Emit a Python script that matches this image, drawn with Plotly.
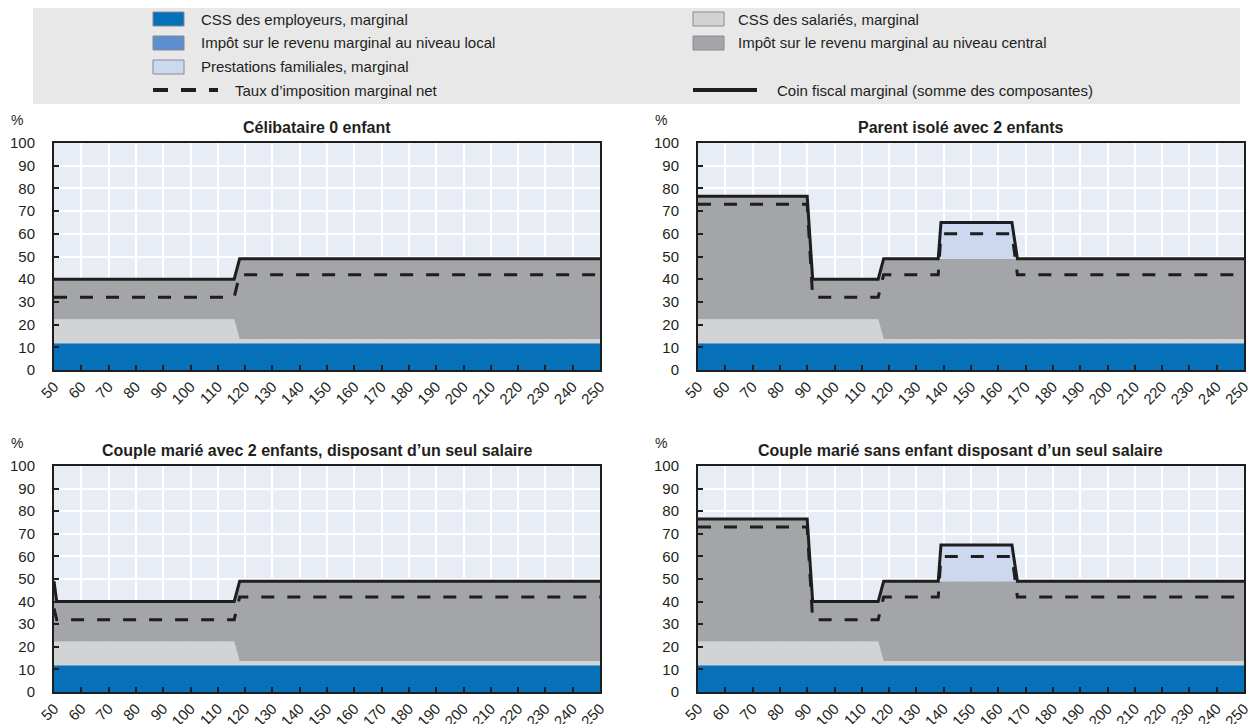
import numpy as np
import plotly.graph_objects as go
from plotly.subplots import make_subplots

# page body has an 8px margin: figure is drawn 8px in from the window edge
OFF = 8
FW, FH = 1256 - OFF, 724 - OFF

# ---------------- DATA ----------------
# Célibataire 0 enfant
x_celib = [50, 116, 118, 250]
css_employeurs_celib = [11.8, 11.8, 11.8, 11.8]
css_salaries_celib = [10.6, 10.6, 1.9, 1.9]
impot_local_celib = [0, 0, 0, 0]
impot_central_celib = [17.6, 17.6, 35.3, 35.3]
prestations_celib = [0, 0, 0, 0]
taux_net_celib = [32, 32, 42, 42]

# Parent isolé avec 2 enfants
x_parent = [50, 90, 92, 116, 118, 138, 139, 165, 167, 250]
css_employeurs_parent = [11.8, 11.8, 11.8, 11.8, 11.8, 11.8, 11.8, 11.8, 11.8, 11.8]
css_salaries_parent = [10.6, 10.6, 10.6, 10.6, 1.9, 1.9, 1.9, 1.9, 1.9, 1.9]
impot_local_parent = [0, 0, 0, 0, 0, 0, 0, 0, 0, 0]
impot_central_parent = [54.1, 54.1, 17.6, 17.6, 35.3, 35.3, 35.3, 35.3, 35.3, 35.3]
prestations_parent = [0, 0, 0, 0, 0, 0, 16, 16, 0, 0]
taux_net_parent = [73, 73, 32, 32, 42, 42, 60, 60, 42, 42]

# Couple marié avec 2 enfants, disposant d'un seul salaire
x_couple2 = [50, 51, 116, 118, 250]
css_employeurs_couple2 = [11.8, 11.8, 11.8, 11.8, 11.8]
css_salaries_couple2 = [10.6, 10.6, 10.6, 1.9, 1.9]
impot_local_couple2 = [0, 0, 0, 0, 0]
impot_central_couple2 = [26.6, 17.6, 17.6, 35.3, 35.3]
prestations_couple2 = [0, 0, 0, 0, 0]
taux_net_couple2 = [37, 32, 32, 42, 42]

# Couple marié sans enfant disposant d'un seul salaire
x_couple0 = [50, 90, 92, 116, 118, 138, 139, 165, 167, 250]
css_employeurs_couple0 = [11.8, 11.8, 11.8, 11.8, 11.8, 11.8, 11.8, 11.8, 11.8, 11.8]
css_salaries_couple0 = [10.6, 10.6, 10.6, 10.6, 1.9, 1.9, 1.9, 1.9, 1.9, 1.9]
impot_local_couple0 = [0, 0, 0, 0, 0, 0, 0, 0, 0, 0]
impot_central_couple0 = [54.1, 54.1, 17.6, 17.6, 35.3, 35.3, 35.3, 35.3, 35.3, 35.3]
prestations_couple0 = [0, 0, 0, 0, 0, 0, 16, 16, 0, 0]
taux_net_couple0 = [73, 73, 32, 32, 42, 42, 60, 60, 42, 42]

titles = ["Célibataire 0 enfant",
          "Parent isolé avec 2 enfants",
          "Couple marié avec 2 enfants, disposant d’un seul salaire",
          "Couple marié sans enfant disposant d’un seul salaire"]

series_names = ["CSS des employeurs, marginal",
                "CSS des salariés, marginal",
                "Impôt sur le revenu marginal au niveau local",
                "Impôt sur le revenu marginal au niveau central",
                "Prestations familiales, marginal"]
name_net = "Taux d’imposition marginal net"
name_total = "Coin fiscal marginal (somme des composantes)"

x_ticks = list(range(50, 251, 10))
y_ticks = list(range(0, 101, 10))

# ---------------- STYLE ----------------
colors = {
    "CSS des employeurs, marginal": "#0670b8",
    "CSS des salariés, marginal": "#d2d3d5",
    "Impôt sur le revenu marginal au niveau local": "#5d8fd0",
    "Impôt sur le revenu marginal au niveau central": "#a4a5a8",
    "Prestations familiales, marginal": "#cbd8ef",
}
PLOT_BG = "#e7ecf5"
LEG_BG = "#e8e8e9"
FONT = "Liberation Sans, Arial"
TXT = "#231f20"


def xp(px):
    return (px - OFF) / FW


def yp(py):
    return 1 - (py - OFF) / FH


panels = [
    (x_celib, [css_employeurs_celib, css_salaries_celib, impot_local_celib, impot_central_celib, prestations_celib], taux_net_celib),
    (x_parent, [css_employeurs_parent, css_salaries_parent, impot_local_parent, impot_central_parent, prestations_parent], taux_net_parent),
    (x_couple2, [css_employeurs_couple2, css_salaries_couple2, impot_local_couple2, impot_central_couple2, prestations_couple2], taux_net_couple2),
    (x_couple0, [css_employeurs_couple0, css_salaries_couple0, impot_local_couple0, impot_central_couple0, prestations_couple0], taux_net_couple0),
]

# window-pixel boxes of each plot area: (left, right, top, bottom)
boxes = [(54, 600, 143, 370), (698, 1244, 143, 370),
         (54, 600, 466, 692), (698, 1244, 466, 692)]

fig = make_subplots(rows=2, cols=2)
pos = [(1, 1), (1, 2), (2, 1), (2, 2)]

for i, (xs, comps, net) in enumerate(panels):
    r, c = pos[i]
    for name, vals in zip(series_names, comps):
        fig.add_trace(go.Scatter(x=xs, y=vals, mode="lines", stackgroup=f"s{i}",
                                 line=dict(width=0, color=colors[name]),
                                 fillcolor=colors[name], name=name,
                                 showlegend=False, hoverinfo="skip"), row=r, col=c)
    total = np.sum(np.array(comps, dtype=float), axis=0)
    fig.add_trace(go.Scatter(x=xs, y=net, mode="lines", name=name_net,
                             line=dict(color="#1e1e1e", width=3, dash="13px,13px"),
                             showlegend=False), row=r, col=c)
    fig.add_trace(go.Scatter(x=xs, y=total, mode="lines", name=name_total,
                             line=dict(color="#1e1e1e", width=3),
                             showlegend=False), row=r, col=c)

annotations = []
for i, (l, rgt, t, b) in enumerate(boxes):
    xa = "xaxis" if i == 0 else f"xaxis{i+1}"
    ya = "yaxis" if i == 0 else f"yaxis{i+1}"
    fig.layout[xa].update(domain=[xp(l), xp(rgt)], range=[50, 250], automargin=False,
                          tickvals=x_ticks, ticktext=[str(v) for v in x_ticks],
                          tickangle=-45, showgrid=True, gridcolor="white", gridwidth=2,
                          showline=True, mirror=True, linecolor="#1e1e1e", linewidth=2,
                          ticks="inside", ticklen=5, tickwidth=1.5, tickcolor="#1e1e1e",
                          tickfont=dict(family=FONT, size=15, color=TXT), zeroline=False)
    fig.layout[ya].update(domain=[yp(b), yp(t)], range=[0, 100], automargin=False,
                          tickvals=y_ticks, showgrid=True, gridcolor="white", gridwidth=2,
                          showline=True, mirror=True, linecolor="#1e1e1e", linewidth=2,
                          ticks="inside", ticklen=5, tickwidth=1.5, tickcolor="#1e1e1e",
                          ticklabelstandoff=14,
                          tickfont=dict(family=FONT, size=15, color=TXT), zeroline=False)
    annotations.append(dict(x=xp((l + rgt) / 2 - 10), y=yp(t - 16), xref="paper", yref="paper",
                            text=f"<b>{titles[i]}</b>", showarrow=False,
                            xanchor="center", yanchor="middle",
                            font=dict(family=FONT, size=16, color=TXT)))
    annotations.append(dict(x=xp(l - 45), y=yp(t - 23), xref="paper", yref="paper",
                            text="%", showarrow=False, xanchor="left", yanchor="middle",
                            font=dict(family=FONT, size=14, color=TXT)))

# ---------------- LEGEND (drawn manually) ----------------
shapes = [dict(type="rect", xref="paper", yref="paper", x0=xp(33), x1=xp(1240),
               y0=yp(104), y1=yp(7), fillcolor=LEG_BG, line=dict(width=0), layer="below")]


def swatch(px, py, color):
    shapes.append(dict(type="rect", xref="paper", yref="paper",
                       x0=xp(px), x1=xp(px + 31), y0=yp(py + 7), y1=yp(py - 7),
                       fillcolor=color, line=dict(color="#8a8a8c", width=1)))


def label(px, py, text):
    annotations.append(dict(x=xp(px), y=yp(py), xref="paper", yref="paper", text=text,
                            showarrow=False, xanchor="left", yanchor="middle",
                            font=dict(family=FONT, size=15, color=TXT)))


rows_y = [19, 43, 67, 90]
swatch(153, rows_y[0], colors[series_names[0]]); label(199, rows_y[0], series_names[0])
swatch(153, rows_y[1], colors[series_names[2]]); label(199, rows_y[1], series_names[2])
swatch(153, rows_y[2], colors[series_names[4]]); label(199, rows_y[2], series_names[4])
shapes.append(dict(type="line", xref="paper", yref="paper", x0=xp(153), x1=xp(218),
                   y0=yp(rows_y[3]), y1=yp(rows_y[3]),
                   line=dict(color="#1e1e1e", width=4, dash="15px,13px")))
label(233, rows_y[3], name_net)
swatch(693, rows_y[0], colors[series_names[1]]); label(736, rows_y[0], series_names[1])
swatch(693, rows_y[1], colors[series_names[3]]); label(736, rows_y[1], series_names[3])
shapes.append(dict(type="line", xref="paper", yref="paper", x0=xp(693), x1=xp(757),
                   y0=yp(rows_y[3]), y1=yp(rows_y[3]),
                   line=dict(color="#1e1e1e", width=4)))
label(775, rows_y[3], name_total)

fig.update_layout(width=FW, height=FH,
                  margin=dict(l=0, r=0, t=0, b=0, pad=0, autoexpand=False),
                  paper_bgcolor="white", plot_bgcolor=PLOT_BG, showlegend=False,
                  annotations=annotations, shapes=shapes,
                  font=dict(family=FONT, color=TXT))

fig.write_html("out.html")
